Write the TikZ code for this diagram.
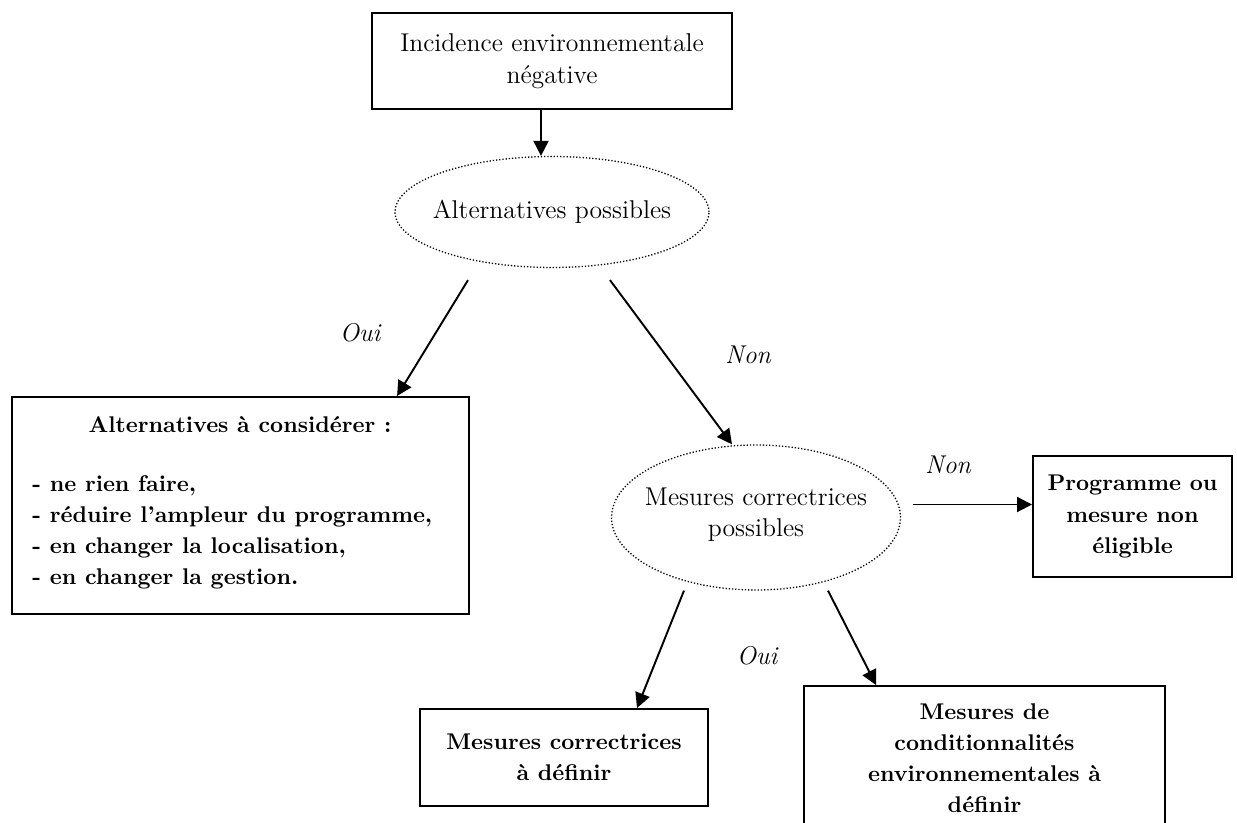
\documentclass[tikz,border=0pt]{standalone}
\usetikzlibrary{shapes.geometric,arrows.meta,calc}

\tikzset{
  boite/.style={draw,line width=0.9pt,align=center,inner sep=2pt,
    font=\fontsize{10.6}{14.5}\selectfont\bfseries},
  bulle/.style={ellipse,draw,line width=0.6pt,dash pattern=on 0.6pt off 0.9pt,inner sep=0pt},
  bultexte/.style={align=center,inner sep=0pt,font=\fontsize{12}{14.5}\selectfont},
  fleche/.style={line width=0.9pt,-{Triangle[length=7pt,width=7pt]}},
  rep/.style={font=\fontsize{12}{14.5}\selectfont\itshape},
}

\begin{document}
\begin{tikzpicture}[x=0.0164cm,y=-0.0164cm]
  \useasboundingbox (0,0) rectangle (1237,823);

  % boites et bulles
  \node[boite,font=\fontsize{12}{15}\selectfont,minimum width=5.904cm,minimum height=1.574cm]
    (incid) at (552,61) {Incidence environnementale\\négative};
  \node[bulle,minimum width=5.15cm,minimum height=1.82cm] (altpos) at (552,212) {};
  \node[bultexte] (altpostxt) at (altpos) {Alternatives possibles};
  \node[boite,minimum width=7.495cm,minimum height=3.559cm] (altcons) at (240.5,505.5) {};
  \node[font=\fontsize{10.6}{14.5}\selectfont\bfseries] (altitre) at (240,425) {Alternatives à considérer :};
  \node[font=\fontsize{10.6}{14.5}\selectfont\bfseries,align=left,anchor=west,inner sep=0pt]
    (altliste) at (32,532) {- ne rien faire,\\- réduire l’ampleur du programme,\\- en changer la localisation,\\- en changer la gestion.};
  \node[bulle,minimum width=4.74cm,minimum height=2.378cm] (mescor) at (756,517.5) {};
  \node[bultexte] (mescortxt) at ($(mescor)+(0,-3)$) {Mesures correctrices\\possibles};
  \node[boite,minimum width=3.264cm,minimum height=1.984cm]
    (nonelig) at (1132.5,516.5) {Programme ou\\mesure non\\éligible};
  \node[boite,minimum width=4.723cm,minimum height=1.591cm]
    (mesdef) at (564,757.5) {Mesures correctrices\\à définir};
  \node[boite,minimum width=5.92cm,minimum height=2.36cm]
    (condit) at (984.5,758) {Mesures de\\conditionnalités\\environnementales à\\définir};

  % fleches
  \draw[fleche] ($(incid.south)+(-11,0)$) -- ($(altpos.north)+(-11,0)$);
  \draw[fleche] ($(altpos.south)+(-84,12)$) -- ($(altcons.north west)+(386,0)$);
  \draw[fleche] ($(altpos.south)+(58,12)$) -- ($(mescor.north)+(-24,0)$);
  \coordinate (nonD) at ($(mescor.east)+(12,-13)$);
  \draw[fleche] (nonD) -- (nonD -| nonelig.west);
  \draw[fleche] ($(mescor.south)+(-72,0)$) -- ($(mesdef.north)+(73,0)$);
  \draw[fleche] ($(mescor.south)+(72,0)$) -- ($(condit.north west)+(73,0)$);

  % reponses
  \node[rep] (oui1) at (360,333) {Oui};
  \node[rep] (non1) at (748,355) {Non};
  \node[rep] (non2) at (948,465) {Non};
  \node[rep] (oui2) at (757,656) {Oui};
\end{tikzpicture}
\end{document}
